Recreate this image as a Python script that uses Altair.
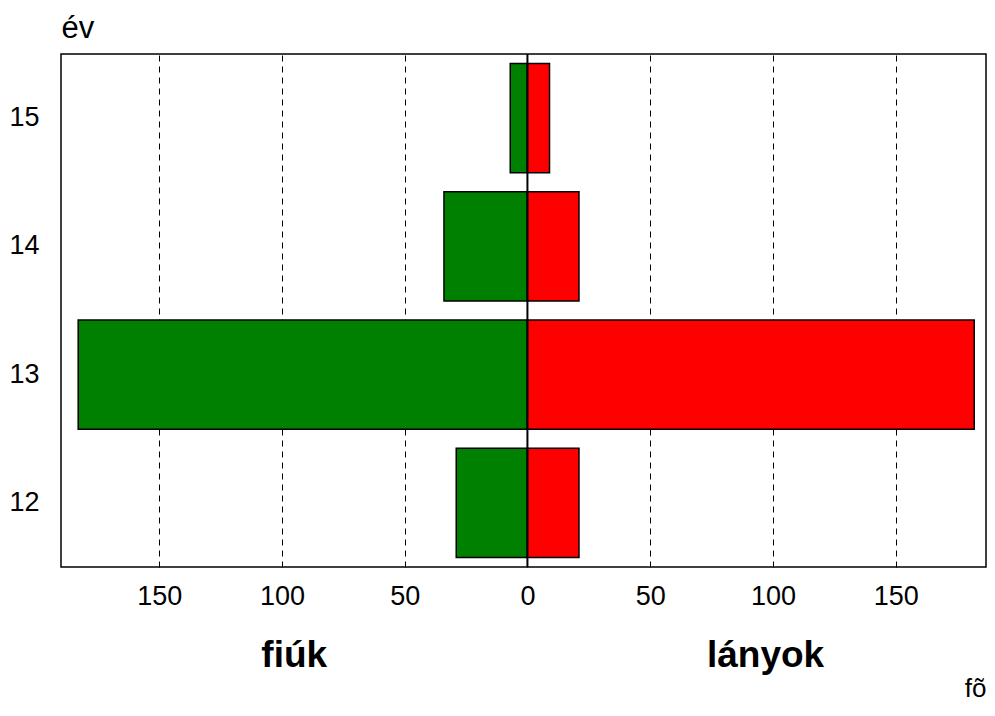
import altair as alt
import pandas as pd

ages = ["15", "14", "13", "12"]
boys = [7, 34, 183, 29]
girls = [9, 21, 182, 21]
tick_values = [-150, -100, -50, 0, 50, 100, 150]
side_labels = ["fiúk", "lányok"]
side_label_pos = [-95, 97]

rows = []
for a, b, g in zip(ages, boys, girls):
    rows.append({"age": a, "sex": "fiúk", "start": 0, "end": -b})
    rows.append({"age": a, "sex": "lányok", "start": 0, "end": g})
df = pd.DataFrame(rows)

FONT = "Liberation Sans"
W, H = 925, 513
BOTTOM = 136

xscale = alt.Scale(domain=[-190, 186.8], nice=False, zero=False)
yscale = alt.Scale(domain=ages, paddingInner=0.15, paddingOuter=0.075)

x_axis = alt.Axis(
    values=tick_values,
    labelExpr="abs(datum.value)",
    grid=True,
    gridColor="black",
    gridDash=[6, 5],
    gridWidth=1,
    gridOpacity=1,
    domain=False,
    ticks=False,
    labelFontSize=27,
    labelFont=FONT,
    labelColor="black",
    labelPadding=16,
    title="fõ",
    titleFont=FONT,
    titleFontSize=26,
    titleFontWeight="normal",
    titleColor="black",
    titleX=W,
    titleY=BOTTOM - 7,
    titleAlign="right",
    titleBaseline="alphabetic",
)

y_axis = alt.Axis(
    domain=False,
    ticks=False,
    grid=False,
    labelFontSize=27,
    labelFont=FONT,
    labelColor="black",
    labelPadding=22,
    title="év",
    titleFont=FONT,
    titleFontSize=31,
    titleFontWeight="normal",
    titleColor="black",
    titleAngle=0,
    titleAlign="left",
    titleBaseline="alphabetic",
    titleX=0,
    titleY=-17,
)

bars = alt.Chart(df).mark_bar(stroke="black", strokeWidth=1.5).encode(
    x=alt.X("start:Q", scale=xscale, axis=x_axis),
    x2="end:Q",
    y=alt.Y("age:N", scale=yscale, sort=ages, axis=y_axis),
    color=alt.Color(
        "sex:N",
        scale=alt.Scale(domain=["fiúk", "lányok"], range=["#008000", "#ff0000"]),
        legend=None,
    ),
)

zero = alt.Chart(pd.DataFrame({"v": [0]})).mark_rule(color="black", strokeWidth=2).encode(
    x=alt.X("v:Q", scale=xscale)
)

labels = alt.Chart(pd.DataFrame({"label": side_labels, "pos": side_label_pos})).mark_text(
    font=FONT, fontSize=37, fontWeight="bold", color="black",
    align="center", baseline="alphabetic",
).encode(
    x=alt.X("pos:Q", scale=xscale),
    y=alt.value(613),
    text="label:N",
)

chart = alt.layer(bars, zero, labels).properties(
    width=W,
    height=H,
    autosize=alt.AutoSizeParams(type="none"),
    padding={"left": 53, "top": 46, "right": 1, "bottom": BOTTOM},
    background="white",
).configure_view(
    stroke="black", strokeWidth=1.5
)

chart.save("out.html", embed_options={"renderer": "svg", "actions": False})
